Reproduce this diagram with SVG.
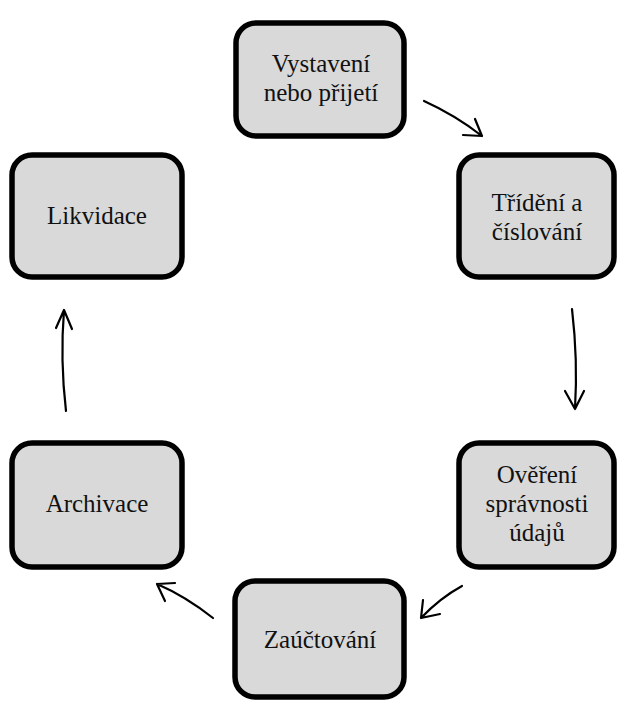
<svg xmlns="http://www.w3.org/2000/svg" width="619" height="702" viewBox="0 0 619 702">
<style>
.box{fill:#d9d9d9;stroke:#000;stroke-width:5.5}
.t{font-family:'Liberation Serif','Times New Roman',serif;font-size:25px;fill:#111;text-anchor:middle}
.c{fill:none;stroke:#000;stroke-width:2.2;stroke-linecap:round;stroke-linejoin:round}
</style>
<rect width="619" height="702" fill="#fff"/>
<g id="n1"><rect class="box" x="236" y="23" width="168" height="113" rx="20"/><text class="t" x="321" y="72">Vystavení</text><text class="t" x="321" y="101">nebo přijetí</text></g>
<g id="n2"><rect class="box" x="459" y="155" width="155" height="122" rx="20"/><text class="t" x="537" y="211">Třídění a</text><text class="t" x="537" y="240">číslování</text></g>
<g id="n3"><rect class="box" x="459" y="443" width="155" height="124" rx="20"/><text class="t" x="537" y="483">Ověření</text><text class="t" x="537" y="512">správnosti</text><text class="t" x="537" y="541">údajů</text></g>
<g id="n4"><rect class="box" x="235" y="581" width="169" height="116" rx="20"/><text class="t" x="320" y="648">Zaúčtování</text></g>
<g id="n5"><rect class="box" x="12" y="443" width="170" height="124" rx="20"/><text class="t" x="97" y="512">Archivace</text></g>
<g id="n6"><rect class="box" x="12" y="155" width="170" height="122" rx="20"/><text class="t" x="97" y="224">Likvidace</text></g>
<g id="connectors">
<path class="c" d="M424 101 Q455 115 482 136 M463 135 L482 136 L475 119"/>
<path class="c" d="M572 309 Q578 360 575 409 M565 391 L575 409 L584 391"/>
<path class="c" d="M462 586 Q440 598 421 618 M423 600 L421 618 L440 614"/>
<path class="c" d="M213 618 Q185 596 157 584 M165 601 L157 584 L175 583"/>
<path class="c" d="M66 411 Q60 360 64 310 M56 328 L64 310 L72 329"/>
</g>
</svg>
